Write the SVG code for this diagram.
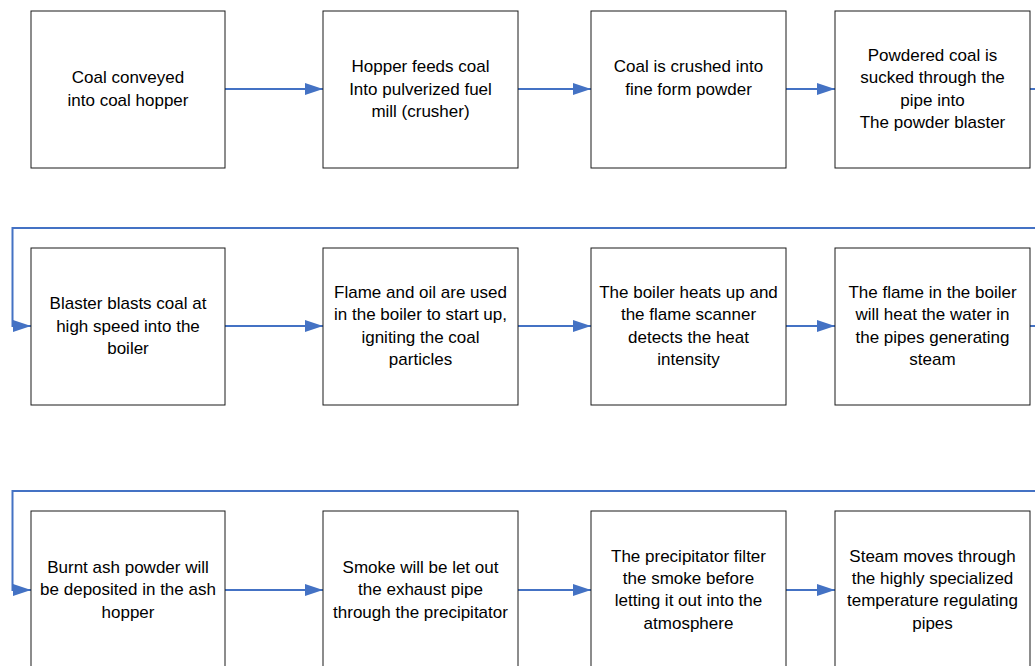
<svg xmlns="http://www.w3.org/2000/svg" width="1035" height="666" viewBox="0 0 1035 666">
<style>
.box{fill:#fff;stroke:#1a1a1a;stroke-width:1}
.t{font-family:"Liberation Sans",Arial,sans-serif;font-size:17px;fill:#000;text-anchor:middle}
.c{fill:none;stroke:#4472C4;stroke-width:2}
</style>
<defs>
<marker id="ah" viewBox="0 0 18 12" refX="18" refY="6" markerWidth="18" markerHeight="12" markerUnits="userSpaceOnUse" orient="auto">
<path d="M0,0 L18,6 L0,12 z" fill="#4472C4"/>
</marker>
</defs>
<rect width="1035" height="666" fill="#fff"/>
<g id="connectors">
<path class="c" d="M225,89 H323" marker-end="url(#ah)"/>
<path class="c" d="M518,89 H591" marker-end="url(#ah)"/>
<path class="c" d="M786,89 H835" marker-end="url(#ah)"/>
<path class="c" d="M1030,89 H1045 V228 H12.5 V326 H31" marker-end="url(#ah)"/>
<path class="c" d="M225,326 H323" marker-end="url(#ah)"/>
<path class="c" d="M518,326 H591" marker-end="url(#ah)"/>
<path class="c" d="M786,326 H835" marker-end="url(#ah)"/>
<path class="c" d="M1030,326 H1045 V491 H12.5 V590 H31" marker-end="url(#ah)"/>
<path class="c" d="M225,590 H323" marker-end="url(#ah)"/>
<path class="c" d="M518,590 H591" marker-end="url(#ah)"/>
<path class="c" d="M786,590 H835" marker-end="url(#ah)"/>
</g>
<g id="n1"><rect class="box" x="31" y="11" width="194" height="157"/>
<text class="t" x="128"><tspan x="128" y="83">Coal conveyed</tspan><tspan x="128" y="105.5">into coal hopper</tspan></text></g>
<g id="n2"><rect class="box" x="323" y="11" width="195" height="157"/>
<text class="t"><tspan x="420.5" y="72">Hopper feeds coal</tspan><tspan x="420.5" y="94.5">Into pulverized fuel</tspan><tspan x="420.5" y="117">mill (crusher)</tspan></text></g>
<g id="n3"><rect class="box" x="591" y="11" width="195" height="157"/>
<text class="t"><tspan x="688.5" y="72">Coal is crushed into</tspan><tspan x="688.5" y="94.5">fine form powder</tspan></text></g>
<g id="n4"><rect class="box" x="835" y="11" width="195" height="157"/>
<text class="t"><tspan x="932.5" y="61">Powdered coal is</tspan><tspan x="932.5" y="83.3">sucked through the</tspan><tspan x="932.5" y="105.6">pipe into</tspan><tspan x="932.5" y="128">The powder blaster</tspan></text></g>
<g id="n5"><rect class="box" x="31" y="248" width="194" height="157"/>
<text class="t"><tspan x="128" y="309">Blaster blasts coal at</tspan><tspan x="128" y="331.5">high speed into the</tspan><tspan x="128" y="354">boiler</tspan></text></g>
<g id="n6"><rect class="box" x="323" y="248" width="195" height="157"/>
<text class="t"><tspan x="420.5" y="298">Flame and oil are used</tspan><tspan x="420.5" y="320.3">in the boiler to start up,</tspan><tspan x="420.5" y="342.6">igniting the coal</tspan><tspan x="420.5" y="365">particles</tspan></text></g>
<g id="n7"><rect class="box" x="591" y="248" width="195" height="157"/>
<text class="t"><tspan x="688.5" y="298">The boiler heats up and</tspan><tspan x="688.5" y="320.3">the flame scanner</tspan><tspan x="688.5" y="342.6">detects the heat</tspan><tspan x="688.5" y="365">intensity</tspan></text></g>
<g id="n8"><rect class="box" x="835" y="248" width="195" height="157"/>
<text class="t"><tspan x="932.5" y="298">The flame in the boiler</tspan><tspan x="932.5" y="320.3">will heat the water in</tspan><tspan x="932.5" y="342.6">the pipes generating</tspan><tspan x="932.5" y="365">steam</tspan></text></g>
<g id="n9"><rect class="box" x="31" y="511" width="194" height="160"/>
<text class="t"><tspan x="128" y="572.5">Burnt ash powder will</tspan><tspan x="128" y="595">be deposited in the ash</tspan><tspan x="128" y="617.5">hopper</tspan></text></g>
<g id="n10"><rect class="box" x="323" y="511" width="195" height="160"/>
<text class="t"><tspan x="420.5" y="572.5">Smoke will be let out</tspan><tspan x="420.5" y="595">the exhaust pipe</tspan><tspan x="420.5" y="617.5">through the precipitator</tspan></text></g>
<g id="n11"><rect class="box" x="591" y="511" width="195" height="160"/>
<text class="t"><tspan x="688.5" y="561.5">The precipitator filter</tspan><tspan x="688.5" y="583.8">the smoke before</tspan><tspan x="688.5" y="606.1">letting it out into the</tspan><tspan x="688.5" y="628.5">atmosphere</tspan></text></g>
<g id="n12"><rect class="box" x="835" y="511" width="195" height="160"/>
<text class="t"><tspan x="932.5" y="561.5">Steam moves through</tspan><tspan x="932.5" y="583.8">the highly specialized</tspan><tspan x="932.5" y="606.1">temperature regulating</tspan><tspan x="932.5" y="628.5">pipes</tspan></text></g>
</svg>
